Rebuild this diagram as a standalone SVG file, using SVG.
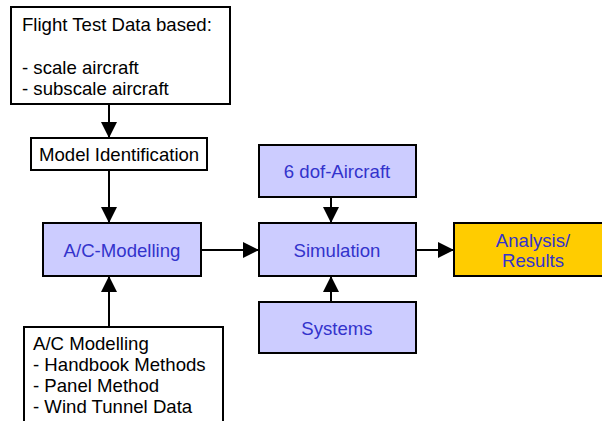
<svg xmlns="http://www.w3.org/2000/svg" width="602" height="421" viewBox="0 0 602 421">
<style>
.box{stroke:#000;stroke-width:2}
.w{fill:#fff}
.b{fill:#ccccff}
.y{fill:#ffcc00}
text{font-family:"Liberation Sans",Arial,sans-serif;font-size:18.6px}
.t{fill:#000}
.c{fill:#3333cc;text-anchor:middle}
.ln{stroke:#000;stroke-width:2;fill:none}
</style>
<defs>
<marker id="ah" viewBox="0 0 16 16" refX="16" refY="8" markerWidth="16" markerHeight="16" markerUnits="userSpaceOnUse" orient="auto">
<path d="M0,0 L16,8 L0,16 Z" fill="#000"/>
</marker>
</defs>
<rect width="602" height="421" fill="#fff"/>
<g id="connectors">
<line class="ln" x1="109" y1="104" x2="109" y2="138" marker-end="url(#ah)"/>
<line class="ln" x1="109" y1="170" x2="109" y2="223" marker-end="url(#ah)"/>
<line class="ln" x1="109" y1="327" x2="109" y2="276" marker-end="url(#ah)"/>
<line class="ln" x1="201" y1="250" x2="259" y2="250" marker-end="url(#ah)"/>
<line class="ln" x1="331" y1="197" x2="331" y2="223" marker-end="url(#ah)"/>
<line class="ln" x1="331" y1="302" x2="331" y2="276" marker-end="url(#ah)"/>
<line class="ln" x1="416" y1="250" x2="454" y2="250" marker-end="url(#ah)"/>
</g>
<g id="flight-test">
<rect class="box w" x="11" y="7" width="219" height="97"/>
<text class="t" x="22" y="31">Flight Test Data based:</text>
<text class="t" x="22" y="74">- scale aircraft</text>
<text class="t" x="22" y="95">- subscale aircraft</text>
</g>
<g id="model-id">
<rect class="box w" x="31" y="138" width="176" height="32"/>
<text class="t" x="39" y="161">Model Identification</text>
</g>
<g id="ac-modelling">
<rect class="box b" x="43" y="223" width="158" height="53"/>
<text class="c" x="122" y="257">A/C-Modelling</text>
</g>
<g id="ac-methods">
<rect class="box w" x="24" y="327" width="199" height="100"/>
<text class="t" x="33" y="350">A/C Modelling</text>
<text class="t" x="33" y="371">- Handbook Methods</text>
<text class="t" x="33" y="392">- Panel Method</text>
<text class="t" x="33" y="413">- Wind Tunnel Data</text>
</g>
<g id="six-dof">
<rect class="box b" x="259" y="145" width="157" height="52"/>
<text class="c" x="337" y="178">6 dof-Aircraft</text>
</g>
<g id="simulation">
<rect class="box b" x="259" y="223" width="157" height="53"/>
<text class="c" x="337" y="257">Simulation</text>
</g>
<g id="systems">
<rect class="box b" x="259" y="302" width="157" height="51"/>
<text class="c" x="337" y="335">Systems</text>
</g>
<g id="analysis">
<rect class="box y" x="454" y="223" width="160" height="53"/>
<text class="c" x="533" y="247">Analysis/</text>
<text class="c" x="533" y="267">Results</text>
</g>
</svg>
